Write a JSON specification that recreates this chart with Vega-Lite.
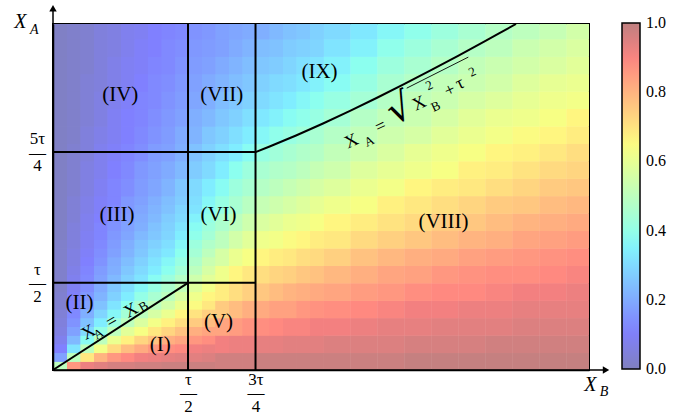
{
"$schema": "https://vega.github.io/schema/vega-lite/v6.json",
"width": 536, "height": 346,
"autosize": {"type": "none"},
"padding": {"left": 53, "top": 24, "right": 84, "bottom": 45},
"background": "white",
"config": {"view": {"stroke": "black", "strokeWidth": 2}, "font": "Liberation Serif"},
"datasets": {
"grid": [
{"b":0,"a":0,"v":0.5},{"b":0,"a":0.1,"v":0.18},{"b":0,"a":0.2,"v":0.11},{"b":0,"a":0.3,"v":0.08},{"b":0,"a":0.4,"v":0.06},{"b":0,"a":0.5,"v":0.05},{"b":0,"a":0.6,"v":0.04},{"b":0,"a":0.7,"v":0.03},{"b":0,"a":0.8,"v":0.03},{"b":0,"a":0.9,"v":0.02},{"b":0,"a":1.0,"v":0.02},{"b":0,"a":1.1,"v":0.02},{"b":0,"a":1.2,"v":0.02},{"b":0,"a":1.3,"v":0.02},{"b":0,"a":1.4,"v":0.02},{"b":0,"a":1.5,"v":0.02},{"b":0,"a":1.6,"v":0.01},{"b":0,"a":1.7,"v":0.01},{"b":0,"a":1.8,"v":0.01},{"b":0,"a":1.9,"v":0.01},
{"b":0.1,"a":0,"v":0.86},{"b":0.1,"a":0.1,"v":0.5},{"b":0.1,"a":0.2,"v":0.32},{"b":0.1,"a":0.3,"v":0.23},{"b":0.1,"a":0.4,"v":0.18},{"b":0.1,"a":0.5,"v":0.15},{"b":0.1,"a":0.6,"v":0.13},{"b":0.1,"a":0.7,"v":0.11},{"b":0.1,"a":0.8,"v":0.1},{"b":0.1,"a":0.9,"v":0.09},{"b":0.1,"a":1.0,"v":0.08},{"b":0.1,"a":1.1,"v":0.07},{"b":0.1,"a":1.2,"v":0.06},{"b":0.1,"a":1.3,"v":0.06},{"b":0.1,"a":1.4,"v":0.05},{"b":0.1,"a":1.5,"v":0.05},{"b":0.1,"a":1.6,"v":0.05},{"b":0.1,"a":1.7,"v":0.04},{"b":0.1,"a":1.8,"v":0.04},{"b":0.1,"a":1.9,"v":0.04},
{"b":0.2,"a":0,"v":0.92},{"b":0.2,"a":0.1,"v":0.69},{"b":0.2,"a":0.2,"v":0.5},{"b":0.2,"a":0.3,"v":0.37},{"b":0.2,"a":0.4,"v":0.3},{"b":0.2,"a":0.5,"v":0.25},{"b":0.2,"a":0.6,"v":0.21},{"b":0.2,"a":0.7,"v":0.18},{"b":0.2,"a":0.8,"v":0.16},{"b":0.2,"a":0.9,"v":0.14},{"b":0.2,"a":1.0,"v":0.13},{"b":0.2,"a":1.1,"v":0.12},{"b":0.2,"a":1.2,"v":0.11},{"b":0.2,"a":1.3,"v":0.1},{"b":0.2,"a":1.4,"v":0.09},{"b":0.2,"a":1.5,"v":0.09},{"b":0.2,"a":1.6,"v":0.08},{"b":0.2,"a":1.7,"v":0.08},{"b":0.2,"a":1.8,"v":0.07},{"b":0.2,"a":1.9,"v":0.07},
{"b":0.3,"a":0,"v":0.94},{"b":0.3,"a":0.1,"v":0.8},{"b":0.3,"a":0.2,"v":0.63},{"b":0.3,"a":0.3,"v":0.5},{"b":0.3,"a":0.4,"v":0.4},{"b":0.3,"a":0.5,"v":0.34},{"b":0.3,"a":0.6,"v":0.29},{"b":0.3,"a":0.7,"v":0.25},{"b":0.3,"a":0.8,"v":0.22},{"b":0.3,"a":0.9,"v":0.2},{"b":0.3,"a":1.0,"v":0.18},{"b":0.3,"a":1.1,"v":0.17},{"b":0.3,"a":1.2,"v":0.15},{"b":0.3,"a":1.3,"v":0.14},{"b":0.3,"a":1.4,"v":0.13},{"b":0.3,"a":1.5,"v":0.12},{"b":0.3,"a":1.6,"v":0.12},{"b":0.3,"a":1.7,"v":0.11},{"b":0.3,"a":1.8,"v":0.1},{"b":0.3,"a":1.9,"v":0.1},
{"b":0.4,"a":0,"v":0.96},{"b":0.4,"a":0.1,"v":0.86},{"b":0.4,"a":0.2,"v":0.72},{"b":0.4,"a":0.3,"v":0.61},{"b":0.4,"a":0.4,"v":0.5},{"b":0.4,"a":0.5,"v":0.42},{"b":0.4,"a":0.6,"v":0.36},{"b":0.4,"a":0.7,"v":0.32},{"b":0.4,"a":0.8,"v":0.28},{"b":0.4,"a":0.9,"v":0.26},{"b":0.4,"a":1.0,"v":0.23},{"b":0.4,"a":1.1,"v":0.21},{"b":0.4,"a":1.2,"v":0.2},{"b":0.4,"a":1.3,"v":0.18},{"b":0.4,"a":1.4,"v":0.17},{"b":0.4,"a":1.5,"v":0.16},{"b":0.4,"a":1.6,"v":0.15},{"b":0.4,"a":1.7,"v":0.14},{"b":0.4,"a":1.8,"v":0.13},{"b":0.4,"a":1.9,"v":0.12},
{"b":0.5,"a":0,"v":0.96},{"b":0.5,"a":0.1,"v":0.89},{"b":0.5,"a":0.2,"v":0.8},{"b":0.5,"a":0.3,"v":0.7},{"b":0.5,"a":0.4,"v":0.62},{"b":0.5,"a":0.5,"v":0.55},{"b":0.5,"a":0.6,"v":0.49},{"b":0.5,"a":0.7,"v":0.43},{"b":0.5,"a":0.8,"v":0.38},{"b":0.5,"a":0.9,"v":0.35},{"b":0.5,"a":1.0,"v":0.31},{"b":0.5,"a":1.1,"v":0.29},{"b":0.5,"a":1.2,"v":0.26},{"b":0.5,"a":1.3,"v":0.24},{"b":0.5,"a":1.4,"v":0.22},{"b":0.5,"a":1.5,"v":0.2},{"b":0.5,"a":1.6,"v":0.19},{"b":0.5,"a":1.7,"v":0.17},{"b":0.5,"a":1.8,"v":0.16},{"b":0.5,"a":1.9,"v":0.16},
{"b":0.6,"a":0,"v":0.97},{"b":0.6,"a":0.1,"v":0.91},{"b":0.6,"a":0.2,"v":0.84},{"b":0.6,"a":0.3,"v":0.77},{"b":0.6,"a":0.4,"v":0.7},{"b":0.6,"a":0.5,"v":0.64},{"b":0.6,"a":0.6,"v":0.59},{"b":0.6,"a":0.7,"v":0.53},{"b":0.6,"a":0.8,"v":0.48},{"b":0.6,"a":0.9,"v":0.43},{"b":0.6,"a":1.0,"v":0.39},{"b":0.6,"a":1.1,"v":0.36},{"b":0.6,"a":1.2,"v":0.32},{"b":0.6,"a":1.3,"v":0.3},{"b":0.6,"a":1.4,"v":0.27},{"b":0.6,"a":1.5,"v":0.25},{"b":0.6,"a":1.6,"v":0.23},{"b":0.6,"a":1.7,"v":0.21},{"b":0.6,"a":1.8,"v":0.19},{"b":0.6,"a":1.9,"v":0.18},
{"b":0.7,"a":0,"v":0.97},{"b":0.7,"a":0.1,"v":0.93},{"b":0.7,"a":0.2,"v":0.88},{"b":0.7,"a":0.3,"v":0.82},{"b":0.7,"a":0.4,"v":0.76},{"b":0.7,"a":0.5,"v":0.7},{"b":0.7,"a":0.6,"v":0.66},{"b":0.7,"a":0.7,"v":0.61},{"b":0.7,"a":0.8,"v":0.56},{"b":0.7,"a":0.9,"v":0.51},{"b":0.7,"a":1.0,"v":0.47},{"b":0.7,"a":1.1,"v":0.43},{"b":0.7,"a":1.2,"v":0.39},{"b":0.7,"a":1.3,"v":0.35},{"b":0.7,"a":1.4,"v":0.32},{"b":0.7,"a":1.5,"v":0.29},{"b":0.7,"a":1.6,"v":0.27},{"b":0.7,"a":1.7,"v":0.25},{"b":0.7,"a":1.8,"v":0.23},{"b":0.7,"a":1.9,"v":0.21},
{"b":0.8,"a":0,"v":0.98},{"b":0.8,"a":0.1,"v":0.93},{"b":0.8,"a":0.2,"v":0.89},{"b":0.8,"a":0.3,"v":0.84},{"b":0.8,"a":0.4,"v":0.79},{"b":0.8,"a":0.5,"v":0.74},{"b":0.8,"a":0.6,"v":0.69},{"b":0.8,"a":0.7,"v":0.64},{"b":0.8,"a":0.8,"v":0.6},{"b":0.8,"a":0.9,"v":0.55},{"b":0.8,"a":1.0,"v":0.51},{"b":0.8,"a":1.1,"v":0.47},{"b":0.8,"a":1.2,"v":0.44},{"b":0.8,"a":1.3,"v":0.4},{"b":0.8,"a":1.4,"v":0.36},{"b":0.8,"a":1.5,"v":0.33},{"b":0.8,"a":1.6,"v":0.3},{"b":0.8,"a":1.7,"v":0.28},{"b":0.8,"a":1.8,"v":0.26},{"b":0.8,"a":1.9,"v":0.24},
{"b":0.9,"a":0,"v":0.98},{"b":0.9,"a":0.1,"v":0.94},{"b":0.9,"a":0.2,"v":0.9},{"b":0.9,"a":0.3,"v":0.86},{"b":0.9,"a":0.4,"v":0.81},{"b":0.9,"a":0.5,"v":0.77},{"b":0.9,"a":0.6,"v":0.72},{"b":0.9,"a":0.7,"v":0.67},{"b":0.9,"a":0.8,"v":0.63},{"b":0.9,"a":0.9,"v":0.59},{"b":0.9,"a":1.0,"v":0.55},{"b":0.9,"a":1.1,"v":0.51},{"b":0.9,"a":1.2,"v":0.48},{"b":0.9,"a":1.3,"v":0.44},{"b":0.9,"a":1.4,"v":0.4},{"b":0.9,"a":1.5,"v":0.37},{"b":0.9,"a":1.6,"v":0.34},{"b":0.9,"a":1.7,"v":0.31},{"b":0.9,"a":1.8,"v":0.29},{"b":0.9,"a":1.9,"v":0.27},
{"b":1.0,"a":0,"v":0.98},{"b":1.0,"a":0.1,"v":0.95},{"b":1.0,"a":0.2,"v":0.91},{"b":1.0,"a":0.3,"v":0.88},{"b":1.0,"a":0.4,"v":0.83},{"b":1.0,"a":0.5,"v":0.79},{"b":1.0,"a":0.6,"v":0.74},{"b":1.0,"a":0.7,"v":0.69},{"b":1.0,"a":0.8,"v":0.66},{"b":1.0,"a":0.9,"v":0.62},{"b":1.0,"a":1.0,"v":0.58},{"b":1.0,"a":1.1,"v":0.54},{"b":1.0,"a":1.2,"v":0.51},{"b":1.0,"a":1.3,"v":0.48},{"b":1.0,"a":1.4,"v":0.44},{"b":1.0,"a":1.5,"v":0.41},{"b":1.0,"a":1.6,"v":0.37},{"b":1.0,"a":1.7,"v":0.35},{"b":1.0,"a":1.8,"v":0.32},{"b":1.0,"a":1.9,"v":0.3},
{"b":1.1,"a":0,"v":0.98},{"b":1.1,"a":0.1,"v":0.95},{"b":1.1,"a":0.2,"v":0.92},{"b":1.1,"a":0.3,"v":0.89},{"b":1.1,"a":0.4,"v":0.85},{"b":1.1,"a":0.5,"v":0.81},{"b":1.1,"a":0.6,"v":0.77},{"b":1.1,"a":0.7,"v":0.72},{"b":1.1,"a":0.8,"v":0.68},{"b":1.1,"a":0.9,"v":0.64},{"b":1.1,"a":1.0,"v":0.61},{"b":1.1,"a":1.1,"v":0.58},{"b":1.1,"a":1.2,"v":0.54},{"b":1.1,"a":1.3,"v":0.51},{"b":1.1,"a":1.4,"v":0.48},{"b":1.1,"a":1.5,"v":0.44},{"b":1.1,"a":1.6,"v":0.41},{"b":1.1,"a":1.7,"v":0.38},{"b":1.1,"a":1.8,"v":0.35},{"b":1.1,"a":1.9,"v":0.33},
{"b":1.2,"a":0,"v":0.98},{"b":1.2,"a":0.1,"v":0.95},{"b":1.2,"a":0.2,"v":0.93},{"b":1.2,"a":0.3,"v":0.9},{"b":1.2,"a":0.4,"v":0.86},{"b":1.2,"a":0.5,"v":0.83},{"b":1.2,"a":0.6,"v":0.79},{"b":1.2,"a":0.7,"v":0.74},{"b":1.2,"a":0.8,"v":0.7},{"b":1.2,"a":0.9,"v":0.67},{"b":1.2,"a":1.0,"v":0.63},{"b":1.2,"a":1.1,"v":0.6},{"b":1.2,"a":1.2,"v":0.57},{"b":1.2,"a":1.3,"v":0.54},{"b":1.2,"a":1.4,"v":0.51},{"b":1.2,"a":1.5,"v":0.48},{"b":1.2,"a":1.6,"v":0.45},{"b":1.2,"a":1.7,"v":0.42},{"b":1.2,"a":1.8,"v":0.39},{"b":1.2,"a":1.9,"v":0.36},
{"b":1.3,"a":0,"v":0.99},{"b":1.3,"a":0.1,"v":0.96},{"b":1.3,"a":0.2,"v":0.93},{"b":1.3,"a":0.3,"v":0.91},{"b":1.3,"a":0.4,"v":0.88},{"b":1.3,"a":0.5,"v":0.84},{"b":1.3,"a":0.6,"v":0.81},{"b":1.3,"a":0.7,"v":0.76},{"b":1.3,"a":0.8,"v":0.72},{"b":1.3,"a":0.9,"v":0.69},{"b":1.3,"a":1.0,"v":0.66},{"b":1.3,"a":1.1,"v":0.62},{"b":1.3,"a":1.2,"v":0.6},{"b":1.3,"a":1.3,"v":0.56},{"b":1.3,"a":1.4,"v":0.53},{"b":1.3,"a":1.5,"v":0.51},{"b":1.3,"a":1.6,"v":0.48},{"b":1.3,"a":1.7,"v":0.45},{"b":1.3,"a":1.8,"v":0.42},{"b":1.3,"a":1.9,"v":0.39},
{"b":1.4,"a":0,"v":0.99},{"b":1.4,"a":0.1,"v":0.96},{"b":1.4,"a":0.2,"v":0.94},{"b":1.4,"a":0.3,"v":0.91},{"b":1.4,"a":0.4,"v":0.89},{"b":1.4,"a":0.5,"v":0.86},{"b":1.4,"a":0.6,"v":0.82},{"b":1.4,"a":0.7,"v":0.78},{"b":1.4,"a":0.8,"v":0.75},{"b":1.4,"a":0.9,"v":0.71},{"b":1.4,"a":1.0,"v":0.68},{"b":1.4,"a":1.1,"v":0.64},{"b":1.4,"a":1.2,"v":0.62},{"b":1.4,"a":1.3,"v":0.59},{"b":1.4,"a":1.4,"v":0.56},{"b":1.4,"a":1.5,"v":0.53},{"b":1.4,"a":1.6,"v":0.51},{"b":1.4,"a":1.7,"v":0.48},{"b":1.4,"a":1.8,"v":0.45},{"b":1.4,"a":1.9,"v":0.42},
{"b":1.5,"a":0,"v":0.99},{"b":1.5,"a":0.1,"v":0.96},{"b":1.5,"a":0.2,"v":0.94},{"b":1.5,"a":0.3,"v":0.92},{"b":1.5,"a":0.4,"v":0.89},{"b":1.5,"a":0.5,"v":0.87},{"b":1.5,"a":0.6,"v":0.84},{"b":1.5,"a":0.7,"v":0.8},{"b":1.5,"a":0.8,"v":0.76},{"b":1.5,"a":0.9,"v":0.73},{"b":1.5,"a":1.0,"v":0.69},{"b":1.5,"a":1.1,"v":0.67},{"b":1.5,"a":1.2,"v":0.64},{"b":1.5,"a":1.3,"v":0.61},{"b":1.5,"a":1.4,"v":0.59},{"b":1.5,"a":1.5,"v":0.56},{"b":1.5,"a":1.6,"v":0.53},{"b":1.5,"a":1.7,"v":0.51},{"b":1.5,"a":1.8,"v":0.48},{"b":1.5,"a":1.9,"v":0.45},
{"b":1.6,"a":0,"v":0.99},{"b":1.6,"a":0.1,"v":0.97},{"b":1.6,"a":0.2,"v":0.94},{"b":1.6,"a":0.3,"v":0.92},{"b":1.6,"a":0.4,"v":0.9},{"b":1.6,"a":0.5,"v":0.88},{"b":1.6,"a":0.6,"v":0.85},{"b":1.6,"a":0.7,"v":0.81},{"b":1.6,"a":0.8,"v":0.78},{"b":1.6,"a":0.9,"v":0.75},{"b":1.6,"a":1.0,"v":0.71},{"b":1.6,"a":1.1,"v":0.68},{"b":1.6,"a":1.2,"v":0.66},{"b":1.6,"a":1.3,"v":0.63},{"b":1.6,"a":1.4,"v":0.61},{"b":1.6,"a":1.5,"v":0.58},{"b":1.6,"a":1.6,"v":0.55},{"b":1.6,"a":1.7,"v":0.53},{"b":1.6,"a":1.8,"v":0.5},{"b":1.6,"a":1.9,"v":0.48},
{"b":1.7,"a":0,"v":0.99},{"b":1.7,"a":0.1,"v":0.97},{"b":1.7,"a":0.2,"v":0.95},{"b":1.7,"a":0.3,"v":0.93},{"b":1.7,"a":0.4,"v":0.91},{"b":1.7,"a":0.5,"v":0.88},{"b":1.7,"a":0.6,"v":0.86},{"b":1.7,"a":0.7,"v":0.83},{"b":1.7,"a":0.8,"v":0.8},{"b":1.7,"a":0.9,"v":0.76},{"b":1.7,"a":1.0,"v":0.73},{"b":1.7,"a":1.1,"v":0.7},{"b":1.7,"a":1.2,"v":0.67},{"b":1.7,"a":1.3,"v":0.65},{"b":1.7,"a":1.4,"v":0.62},{"b":1.7,"a":1.5,"v":0.6},{"b":1.7,"a":1.6,"v":0.58},{"b":1.7,"a":1.7,"v":0.55},{"b":1.7,"a":1.8,"v":0.53},{"b":1.7,"a":1.9,"v":0.5},
{"b":1.8,"a":0,"v":0.99},{"b":1.8,"a":0.1,"v":0.97},{"b":1.8,"a":0.2,"v":0.95},{"b":1.8,"a":0.3,"v":0.93},{"b":1.8,"a":0.4,"v":0.91},{"b":1.8,"a":0.5,"v":0.89},{"b":1.8,"a":0.6,"v":0.87},{"b":1.8,"a":0.7,"v":0.84},{"b":1.8,"a":0.8,"v":0.81},{"b":1.8,"a":0.9,"v":0.78},{"b":1.8,"a":1.0,"v":0.75},{"b":1.8,"a":1.1,"v":0.72},{"b":1.8,"a":1.2,"v":0.69},{"b":1.8,"a":1.3,"v":0.66},{"b":1.8,"a":1.4,"v":0.64},{"b":1.8,"a":1.5,"v":0.62},{"b":1.8,"a":1.6,"v":0.6},{"b":1.8,"a":1.7,"v":0.57},{"b":1.8,"a":1.8,"v":0.55},{"b":1.8,"a":1.9,"v":0.52},
{"b":1.9,"a":0,"v":0.99},{"b":1.9,"a":0.1,"v":0.97},{"b":1.9,"a":0.2,"v":0.95},{"b":1.9,"a":0.3,"v":0.93},{"b":1.9,"a":0.4,"v":0.92},{"b":1.9,"a":0.5,"v":0.9},{"b":1.9,"a":0.6,"v":0.88},{"b":1.9,"a":0.7,"v":0.85},{"b":1.9,"a":0.8,"v":0.82},{"b":1.9,"a":0.9,"v":0.79},{"b":1.9,"a":1.0,"v":0.76},{"b":1.9,"a":1.1,"v":0.73},{"b":1.9,"a":1.2,"v":0.71},{"b":1.9,"a":1.3,"v":0.68},{"b":1.9,"a":1.4,"v":0.66},{"b":1.9,"a":1.5,"v":0.63},{"b":1.9,"a":1.6,"v":0.61},{"b":1.9,"a":1.7,"v":0.59},{"b":1.9,"a":1.8,"v":0.57},{"b":1.9,"a":1.9,"v":0.55}
],
"fine": [
{"b":0,"a":0,"v":0.5},{"b":0,"a":0.05,"v":0.18},{"b":0,"a":0.1,"v":0.11},{"b":0,"a":0.15,"v":0.08},{"b":0,"a":0.2,"v":0.06},{"b":0,"a":0.25,"v":0.05},{"b":0,"a":0.3,"v":0.04},{"b":0,"a":0.35,"v":0.03},{"b":0,"a":0.4,"v":0.03},{"b":0,"a":0.45,"v":0.02},{"b":0,"a":0.5,"v":0.02},{"b":0,"a":0.55,"v":0.02},{"b":0,"a":0.6,"v":0.02},{"b":0,"a":0.65,"v":0.02},{"b":0,"a":0.7,"v":0.02},{"b":0,"a":0.75,"v":0.01},{"b":0,"a":0.8,"v":0.01},{"b":0,"a":0.85,"v":0.01},{"b":0,"a":0.9,"v":0.01},{"b":0,"a":0.95,"v":0.01},
{"b":0.05,"a":0,"v":0.86},{"b":0.05,"a":0.05,"v":0.5},{"b":0.05,"a":0.1,"v":0.32},{"b":0.05,"a":0.15,"v":0.23},{"b":0.05,"a":0.2,"v":0.18},{"b":0.05,"a":0.25,"v":0.15},{"b":0.05,"a":0.3,"v":0.13},{"b":0.05,"a":0.35,"v":0.11},{"b":0.05,"a":0.4,"v":0.1},{"b":0.05,"a":0.45,"v":0.09},{"b":0.05,"a":0.5,"v":0.08},{"b":0.05,"a":0.55,"v":0.07},{"b":0.05,"a":0.6,"v":0.06},{"b":0.05,"a":0.65,"v":0.06},{"b":0.05,"a":0.7,"v":0.05},{"b":0.05,"a":0.75,"v":0.05},{"b":0.05,"a":0.8,"v":0.05},{"b":0.05,"a":0.85,"v":0.04},{"b":0.05,"a":0.9,"v":0.04},{"b":0.05,"a":0.95,"v":0.04},
{"b":0.1,"a":0,"v":0.92},{"b":0.1,"a":0.05,"v":0.69},{"b":0.1,"a":0.1,"v":0.5},{"b":0.1,"a":0.15,"v":0.37},{"b":0.1,"a":0.2,"v":0.3},{"b":0.1,"a":0.25,"v":0.25},{"b":0.1,"a":0.3,"v":0.21},{"b":0.1,"a":0.35,"v":0.18},{"b":0.1,"a":0.4,"v":0.16},{"b":0.1,"a":0.45,"v":0.14},{"b":0.1,"a":0.5,"v":0.13},{"b":0.1,"a":0.55,"v":0.12},{"b":0.1,"a":0.6,"v":0.11},{"b":0.1,"a":0.65,"v":0.1},{"b":0.1,"a":0.7,"v":0.09},{"b":0.1,"a":0.75,"v":0.09},{"b":0.1,"a":0.8,"v":0.08},{"b":0.1,"a":0.85,"v":0.08},{"b":0.1,"a":0.9,"v":0.07},{"b":0.1,"a":0.95,"v":0.07},
{"b":0.15,"a":0,"v":0.94},{"b":0.15,"a":0.05,"v":0.8},{"b":0.15,"a":0.1,"v":0.63},{"b":0.15,"a":0.15,"v":0.5},{"b":0.15,"a":0.2,"v":0.4},{"b":0.15,"a":0.25,"v":0.34},{"b":0.15,"a":0.3,"v":0.29},{"b":0.15,"a":0.35,"v":0.25},{"b":0.15,"a":0.4,"v":0.22},{"b":0.15,"a":0.45,"v":0.2},{"b":0.15,"a":0.5,"v":0.18},{"b":0.15,"a":0.55,"v":0.17},{"b":0.15,"a":0.6,"v":0.15},{"b":0.15,"a":0.65,"v":0.14},{"b":0.15,"a":0.7,"v":0.13},{"b":0.15,"a":0.75,"v":0.12},{"b":0.15,"a":0.8,"v":0.12},{"b":0.15,"a":0.85,"v":0.11},{"b":0.15,"a":0.9,"v":0.1},{"b":0.15,"a":0.95,"v":0.1},
{"b":0.2,"a":0,"v":0.96},{"b":0.2,"a":0.05,"v":0.86},{"b":0.2,"a":0.1,"v":0.72},{"b":0.2,"a":0.15,"v":0.61},{"b":0.2,"a":0.2,"v":0.5},{"b":0.2,"a":0.25,"v":0.42},{"b":0.2,"a":0.3,"v":0.36},{"b":0.2,"a":0.35,"v":0.32},{"b":0.2,"a":0.4,"v":0.28},{"b":0.2,"a":0.45,"v":0.26},{"b":0.2,"a":0.5,"v":0.23},{"b":0.2,"a":0.55,"v":0.21},{"b":0.2,"a":0.6,"v":0.2},{"b":0.2,"a":0.65,"v":0.18},{"b":0.2,"a":0.7,"v":0.17},{"b":0.2,"a":0.75,"v":0.16},{"b":0.2,"a":0.8,"v":0.15},{"b":0.2,"a":0.85,"v":0.14},{"b":0.2,"a":0.9,"v":0.13},{"b":0.2,"a":0.95,"v":0.12},
{"b":0.25,"a":0,"v":0.96},{"b":0.25,"a":0.05,"v":0.89},{"b":0.25,"a":0.1,"v":0.78},{"b":0.25,"a":0.15,"v":0.67},{"b":0.25,"a":0.2,"v":0.59},{"b":0.25,"a":0.25,"v":0.5},{"b":0.25,"a":0.3,"v":0.44},{"b":0.25,"a":0.35,"v":0.38},{"b":0.25,"a":0.4,"v":0.34},{"b":0.25,"a":0.45,"v":0.31},{"b":0.25,"a":0.5,"v":0.28},{"b":0.25,"a":0.55,"v":0.26},{"b":0.25,"a":0.6,"v":0.24},{"b":0.25,"a":0.65,"v":0.22},{"b":0.25,"a":0.7,"v":0.21},{"b":0.25,"a":0.75,"v":0.19},{"b":0.25,"a":0.8,"v":0.18},{"b":0.25,"a":0.85,"v":0.17},{"b":0.25,"a":0.9,"v":0.16},{"b":0.25,"a":0.95,"v":0.16},
{"b":0.3,"a":0,"v":0.97},{"b":0.3,"a":0.05,"v":0.91},{"b":0.3,"a":0.1,"v":0.82},{"b":0.3,"a":0.15,"v":0.73},{"b":0.3,"a":0.2,"v":0.64},{"b":0.3,"a":0.25,"v":0.57},{"b":0.3,"a":0.3,"v":0.5},{"b":0.3,"a":0.35,"v":0.45},{"b":0.3,"a":0.4,"v":0.4},{"b":0.3,"a":0.45,"v":0.36},{"b":0.3,"a":0.5,"v":0.32},{"b":0.3,"a":0.55,"v":0.3},{"b":0.3,"a":0.6,"v":0.28},{"b":0.3,"a":0.65,"v":0.26},{"b":0.3,"a":0.7,"v":0.25},{"b":0.3,"a":0.75,"v":0.23},{"b":0.3,"a":0.8,"v":0.21},{"b":0.3,"a":0.85,"v":0.2},{"b":0.3,"a":0.9,"v":0.19},{"b":0.3,"a":0.95,"v":0.18},
{"b":0.35,"a":0,"v":0.97},{"b":0.35,"a":0.05,"v":0.92},{"b":0.35,"a":0.1,"v":0.86},{"b":0.35,"a":0.15,"v":0.77},{"b":0.35,"a":0.2,"v":0.69},{"b":0.35,"a":0.25,"v":0.63},{"b":0.35,"a":0.3,"v":0.56},{"b":0.35,"a":0.35,"v":0.5},{"b":0.35,"a":0.4,"v":0.45},{"b":0.35,"a":0.45,"v":0.41},{"b":0.35,"a":0.5,"v":0.37},{"b":0.35,"a":0.55,"v":0.34},{"b":0.35,"a":0.6,"v":0.32},{"b":0.35,"a":0.65,"v":0.3},{"b":0.35,"a":0.7,"v":0.28},{"b":0.35,"a":0.75,"v":0.26},{"b":0.35,"a":0.8,"v":0.25},{"b":0.35,"a":0.85,"v":0.23},{"b":0.35,"a":0.9,"v":0.22},{"b":0.35,"a":0.95,"v":0.21},
{"b":0.4,"a":0,"v":0.98},{"b":0.4,"a":0.05,"v":0.93},{"b":0.4,"a":0.1,"v":0.88},{"b":0.4,"a":0.15,"v":0.81},{"b":0.4,"a":0.2,"v":0.73},{"b":0.4,"a":0.25,"v":0.67},{"b":0.4,"a":0.3,"v":0.61},{"b":0.4,"a":0.35,"v":0.55},{"b":0.4,"a":0.4,"v":0.5},{"b":0.4,"a":0.45,"v":0.46},{"b":0.4,"a":0.5,"v":0.42},{"b":0.4,"a":0.55,"v":0.38},{"b":0.4,"a":0.6,"v":0.36},{"b":0.4,"a":0.65,"v":0.33},{"b":0.4,"a":0.7,"v":0.31},{"b":0.4,"a":0.75,"v":0.29},{"b":0.4,"a":0.8,"v":0.28},{"b":0.4,"a":0.85,"v":0.27},{"b":0.4,"a":0.9,"v":0.25},{"b":0.4,"a":0.95,"v":0.24},
{"b":0.45,"a":0,"v":0.98},{"b":0.45,"a":0.05,"v":0.94},{"b":0.45,"a":0.1,"v":0.89},{"b":0.45,"a":0.15,"v":0.83},{"b":0.45,"a":0.2,"v":0.77},{"b":0.45,"a":0.25,"v":0.71},{"b":0.45,"a":0.3,"v":0.66},{"b":0.45,"a":0.35,"v":0.61},{"b":0.45,"a":0.4,"v":0.56},{"b":0.45,"a":0.45,"v":0.51},{"b":0.45,"a":0.5,"v":0.48},{"b":0.45,"a":0.55,"v":0.44},{"b":0.45,"a":0.6,"v":0.41},{"b":0.45,"a":0.65,"v":0.38},{"b":0.45,"a":0.7,"v":0.36},{"b":0.45,"a":0.75,"v":0.34},{"b":0.45,"a":0.8,"v":0.32},{"b":0.45,"a":0.85,"v":0.3},{"b":0.45,"a":0.9,"v":0.29},{"b":0.45,"a":0.95,"v":0.27},
{"b":0.5,"a":0,"v":0.98},{"b":0.5,"a":0.05,"v":0.94},{"b":0.5,"a":0.1,"v":0.91},{"b":0.5,"a":0.15,"v":0.86},{"b":0.5,"a":0.2,"v":0.81},{"b":0.5,"a":0.25,"v":0.75},{"b":0.5,"a":0.3,"v":0.7},{"b":0.5,"a":0.35,"v":0.65},{"b":0.5,"a":0.4,"v":0.62},{"b":0.5,"a":0.45,"v":0.58},{"b":0.5,"a":0.5,"v":0.54},{"b":0.5,"a":0.55,"v":0.5},{"b":0.5,"a":0.6,"v":0.47},{"b":0.5,"a":0.65,"v":0.44},{"b":0.5,"a":0.7,"v":0.42},{"b":0.5,"a":0.75,"v":0.39},{"b":0.5,"a":0.8,"v":0.37},{"b":0.5,"a":0.85,"v":0.35},{"b":0.5,"a":0.9,"v":0.32},{"b":0.5,"a":0.95,"v":0.31},
{"b":0.55,"a":0,"v":0.98},{"b":0.55,"a":0.05,"v":0.95},{"b":0.55,"a":0.1,"v":0.92},{"b":0.55,"a":0.15,"v":0.88},{"b":0.55,"a":0.2,"v":0.83},{"b":0.55,"a":0.25,"v":0.78},{"b":0.55,"a":0.3,"v":0.74},{"b":0.55,"a":0.35,"v":0.69},{"b":0.55,"a":0.4,"v":0.66},{"b":0.55,"a":0.45,"v":0.63},{"b":0.55,"a":0.5,"v":0.59},{"b":0.55,"a":0.55,"v":0.56},{"b":0.55,"a":0.6,"v":0.53},{"b":0.55,"a":0.65,"v":0.5},{"b":0.55,"a":0.7,"v":0.47},{"b":0.55,"a":0.75,"v":0.44},{"b":0.55,"a":0.8,"v":0.42},{"b":0.55,"a":0.85,"v":0.4},{"b":0.55,"a":0.9,"v":0.37},{"b":0.55,"a":0.95,"v":0.36}
],
"fine2": [
{"b":0,"a":1.0,"v":0.01},{"b":0,"a":1.1,"v":0.01},{"b":0,"a":1.2,"v":0.01},{"b":0,"a":1.3,"v":0.01},{"b":0,"a":1.4,"v":0.01},{"b":0,"a":1.5,"v":0.01},{"b":0,"a":1.6,"v":0.01},{"b":0,"a":1.7,"v":0.01},{"b":0,"a":1.8,"v":0.01},{"b":0,"a":1.9,"v":0.01},
{"b":0.05,"a":1.0,"v":0.03},{"b":0.05,"a":1.1,"v":0.03},{"b":0.05,"a":1.2,"v":0.03},{"b":0.05,"a":1.3,"v":0.02},{"b":0.05,"a":1.4,"v":0.02},{"b":0.05,"a":1.5,"v":0.02},{"b":0.05,"a":1.6,"v":0.02},{"b":0.05,"a":1.7,"v":0.02},{"b":0.05,"a":1.8,"v":0.02},{"b":0.05,"a":1.9,"v":0.02},
{"b":0.1,"a":1.0,"v":0.06},{"b":0.1,"a":1.1,"v":0.06},{"b":0.1,"a":1.2,"v":0.05},{"b":0.1,"a":1.3,"v":0.05},{"b":0.1,"a":1.4,"v":0.04},{"b":0.1,"a":1.5,"v":0.04},{"b":0.1,"a":1.6,"v":0.04},{"b":0.1,"a":1.7,"v":0.03},{"b":0.1,"a":1.8,"v":0.03},{"b":0.1,"a":1.9,"v":0.03},
{"b":0.15,"a":1.0,"v":0.09},{"b":0.15,"a":1.1,"v":0.08},{"b":0.15,"a":1.2,"v":0.08},{"b":0.15,"a":1.3,"v":0.07},{"b":0.15,"a":1.4,"v":0.06},{"b":0.15,"a":1.5,"v":0.06},{"b":0.15,"a":1.6,"v":0.05},{"b":0.15,"a":1.7,"v":0.05},{"b":0.15,"a":1.8,"v":0.05},{"b":0.15,"a":1.9,"v":0.05},
{"b":0.2,"a":1.0,"v":0.12},{"b":0.2,"a":1.1,"v":0.11},{"b":0.2,"a":1.2,"v":0.1},{"b":0.2,"a":1.3,"v":0.09},{"b":0.2,"a":1.4,"v":0.09},{"b":0.2,"a":1.5,"v":0.08},{"b":0.2,"a":1.6,"v":0.07},{"b":0.2,"a":1.7,"v":0.07},{"b":0.2,"a":1.8,"v":0.06},{"b":0.2,"a":1.9,"v":0.06},
{"b":0.25,"a":1.0,"v":0.14},{"b":0.25,"a":1.1,"v":0.13},{"b":0.25,"a":1.2,"v":0.12},{"b":0.25,"a":1.3,"v":0.11},{"b":0.25,"a":1.4,"v":0.11},{"b":0.25,"a":1.5,"v":0.1},{"b":0.25,"a":1.6,"v":0.09},{"b":0.25,"a":1.7,"v":0.09},{"b":0.25,"a":1.8,"v":0.08},{"b":0.25,"a":1.9,"v":0.08},
{"b":0.3,"a":1.0,"v":0.17},{"b":0.3,"a":1.1,"v":0.16},{"b":0.3,"a":1.2,"v":0.14},{"b":0.3,"a":1.3,"v":0.13},{"b":0.3,"a":1.4,"v":0.12},{"b":0.3,"a":1.5,"v":0.12},{"b":0.3,"a":1.6,"v":0.11},{"b":0.3,"a":1.7,"v":0.1},{"b":0.3,"a":1.8,"v":0.1},{"b":0.3,"a":1.9,"v":0.09},
{"b":0.35,"a":1.0,"v":0.19},{"b":0.35,"a":1.1,"v":0.18},{"b":0.35,"a":1.2,"v":0.17},{"b":0.35,"a":1.3,"v":0.15},{"b":0.35,"a":1.4,"v":0.14},{"b":0.35,"a":1.5,"v":0.13},{"b":0.35,"a":1.6,"v":0.13},{"b":0.35,"a":1.7,"v":0.12},{"b":0.35,"a":1.8,"v":0.11},{"b":0.35,"a":1.9,"v":0.11},
{"b":0.4,"a":1.0,"v":0.22},{"b":0.4,"a":1.1,"v":0.2},{"b":0.4,"a":1.2,"v":0.18},{"b":0.4,"a":1.3,"v":0.17},{"b":0.4,"a":1.4,"v":0.16},{"b":0.4,"a":1.5,"v":0.15},{"b":0.4,"a":1.6,"v":0.14},{"b":0.4,"a":1.7,"v":0.13},{"b":0.4,"a":1.8,"v":0.13},{"b":0.4,"a":1.9,"v":0.12},
{"b":0.45,"a":1.0,"v":0.26},{"b":0.45,"a":1.1,"v":0.23},{"b":0.45,"a":1.2,"v":0.21},{"b":0.45,"a":1.3,"v":0.2},{"b":0.45,"a":1.4,"v":0.18},{"b":0.45,"a":1.5,"v":0.17},{"b":0.45,"a":1.6,"v":0.16},{"b":0.45,"a":1.7,"v":0.15},{"b":0.45,"a":1.8,"v":0.14},{"b":0.45,"a":1.9,"v":0.13},
{"b":0.5,"a":1.0,"v":0.3},{"b":0.5,"a":1.1,"v":0.27},{"b":0.5,"a":1.2,"v":0.25},{"b":0.5,"a":1.3,"v":0.22},{"b":0.5,"a":1.4,"v":0.21},{"b":0.5,"a":1.5,"v":0.19},{"b":0.5,"a":1.6,"v":0.18},{"b":0.5,"a":1.7,"v":0.17},{"b":0.5,"a":1.8,"v":0.16},{"b":0.5,"a":1.9,"v":0.15},
{"b":0.55,"a":1.0,"v":0.34},{"b":0.55,"a":1.1,"v":0.3},{"b":0.55,"a":1.2,"v":0.28},{"b":0.55,"a":1.3,"v":0.26},{"b":0.55,"a":1.4,"v":0.23},{"b":0.55,"a":1.5,"v":0.21},{"b":0.55,"a":1.6,"v":0.2},{"b":0.55,"a":1.7,"v":0.18},{"b":0.55,"a":1.8,"v":0.17},{"b":0.55,"a":1.9,"v":0.16},
{"b":0.6,"a":0,"v":0.97},{"b":0.6,"a":0.1,"v":0.91},{"b":0.6,"a":0.2,"v":0.83},{"b":0.6,"a":0.3,"v":0.75},{"b":0.6,"a":0.4,"v":0.68},{"b":0.6,"a":0.5,"v":0.62},{"b":0.6,"a":0.6,"v":0.56},{"b":0.6,"a":0.7,"v":0.5},{"b":0.6,"a":0.8,"v":0.46},{"b":0.6,"a":0.9,"v":0.41},{"b":0.6,"a":1.0,"v":0.37},{"b":0.6,"a":1.1,"v":0.34},{"b":0.6,"a":1.2,"v":0.31},{"b":0.6,"a":1.3,"v":0.28},{"b":0.6,"a":1.4,"v":0.26},{"b":0.6,"a":1.5,"v":0.24},{"b":0.6,"a":1.6,"v":0.22},{"b":0.6,"a":1.7,"v":0.2},{"b":0.6,"a":1.8,"v":0.18},{"b":0.6,"a":1.9,"v":0.18},
{"b":0.65,"a":0,"v":0.97},{"b":0.65,"a":0.1,"v":0.92},{"b":0.65,"a":0.2,"v":0.85},{"b":0.65,"a":0.3,"v":0.78},{"b":0.65,"a":0.4,"v":0.71},{"b":0.65,"a":0.5,"v":0.66},{"b":0.65,"a":0.6,"v":0.61},{"b":0.65,"a":0.7,"v":0.55},{"b":0.65,"a":0.8,"v":0.5},{"b":0.65,"a":0.9,"v":0.45},{"b":0.65,"a":1.0,"v":0.42},{"b":0.65,"a":1.1,"v":0.38},{"b":0.65,"a":1.2,"v":0.34},{"b":0.65,"a":1.3,"v":0.31},{"b":0.65,"a":1.4,"v":0.28},{"b":0.65,"a":1.5,"v":0.26},{"b":0.65,"a":1.6,"v":0.24},{"b":0.65,"a":1.7,"v":0.22},{"b":0.65,"a":1.8,"v":0.2},{"b":0.65,"a":1.9,"v":0.19},
{"b":0.7,"a":0,"v":0.97},{"b":0.7,"a":0.1,"v":0.92},{"b":0.7,"a":0.2,"v":0.87},{"b":0.7,"a":0.3,"v":0.81},{"b":0.7,"a":0.4,"v":0.74},{"b":0.7,"a":0.5,"v":0.69},{"b":0.7,"a":0.6,"v":0.64},{"b":0.7,"a":0.7,"v":0.59},{"b":0.7,"a":0.8,"v":0.54},{"b":0.7,"a":0.9,"v":0.49},{"b":0.7,"a":1.0,"v":0.45},{"b":0.7,"a":1.1,"v":0.42},{"b":0.7,"a":1.2,"v":0.37},{"b":0.7,"a":1.3,"v":0.34},{"b":0.7,"a":1.4,"v":0.31},{"b":0.7,"a":1.5,"v":0.28},{"b":0.7,"a":1.6,"v":0.26},{"b":0.7,"a":1.7,"v":0.24},{"b":0.7,"a":1.8,"v":0.22},{"b":0.7,"a":1.9,"v":0.2},
{"b":0.75,"a":0,"v":0.98},{"b":0.75,"a":0.1,"v":0.93},{"b":0.75,"a":0.2,"v":0.88},{"b":0.75,"a":0.3,"v":0.82},{"b":0.75,"a":0.4,"v":0.76},{"b":0.75,"a":0.5,"v":0.71},{"b":0.75,"a":0.6,"v":0.66},{"b":0.75,"a":0.7,"v":0.62},{"b":0.75,"a":0.8,"v":0.57},{"b":0.75,"a":0.9,"v":0.52},{"b":0.75,"a":1.0,"v":0.48},{"b":0.75,"a":1.1,"v":0.45},{"b":0.75,"a":1.2,"v":0.41},{"b":0.75,"a":1.3,"v":0.36},{"b":0.75,"a":1.4,"v":0.33},{"b":0.75,"a":1.5,"v":0.3},{"b":0.75,"a":1.6,"v":0.28},{"b":0.75,"a":1.7,"v":0.26},{"b":0.75,"a":1.8,"v":0.24},{"b":0.75,"a":1.9,"v":0.21},
{"b":0.8,"a":0,"v":0.98},{"b":0.8,"a":0.1,"v":0.93},{"b":0.8,"a":0.2,"v":0.89},{"b":0.8,"a":0.3,"v":0.84},{"b":0.8,"a":0.4,"v":0.78},{"b":0.8,"a":0.5,"v":0.73},{"b":0.8,"a":0.6,"v":0.68},{"b":0.8,"a":0.7,"v":0.63},{"b":0.8,"a":0.8,"v":0.59},{"b":0.8,"a":0.9,"v":0.54},{"b":0.8,"a":1.0,"v":0.5},{"b":0.8,"a":1.1,"v":0.47},{"b":0.8,"a":1.2,"v":0.43},{"b":0.8,"a":1.3,"v":0.39},{"b":0.8,"a":1.4,"v":0.35},{"b":0.8,"a":1.5,"v":0.32},{"b":0.8,"a":1.6,"v":0.3},{"b":0.8,"a":1.7,"v":0.27},{"b":0.8,"a":1.8,"v":0.25},{"b":0.8,"a":1.9,"v":0.23},
{"b":0.85,"a":0,"v":0.98},{"b":0.85,"a":0.1,"v":0.94},{"b":0.85,"a":0.2,"v":0.9},{"b":0.85,"a":0.3,"v":0.84},{"b":0.85,"a":0.4,"v":0.8},{"b":0.85,"a":0.5,"v":0.74},{"b":0.85,"a":0.6,"v":0.69},{"b":0.85,"a":0.7,"v":0.65},{"b":0.85,"a":0.8,"v":0.61},{"b":0.85,"a":0.9,"v":0.56},{"b":0.85,"a":1.0,"v":0.52},{"b":0.85,"a":1.1,"v":0.48},{"b":0.85,"a":1.2,"v":0.45},{"b":0.85,"a":1.3,"v":0.41},{"b":0.85,"a":1.4,"v":0.37},{"b":0.85,"a":1.5,"v":0.34},{"b":0.85,"a":1.6,"v":0.31},{"b":0.85,"a":1.7,"v":0.29},{"b":0.85,"a":1.8,"v":0.27},{"b":0.85,"a":1.9,"v":0.25},
{"b":0.9,"a":0,"v":0.98},{"b":0.9,"a":0.1,"v":0.94},{"b":0.9,"a":0.2,"v":0.9},{"b":0.9,"a":0.3,"v":0.86},{"b":0.9,"a":0.4,"v":0.81},{"b":0.9,"a":0.5,"v":0.76},{"b":0.9,"a":0.6,"v":0.71},{"b":0.9,"a":0.7,"v":0.66},{"b":0.9,"a":0.8,"v":0.62},{"b":0.9,"a":0.9,"v":0.58},{"b":0.9,"a":1.0,"v":0.54},{"b":0.9,"a":1.1,"v":0.5},{"b":0.9,"a":1.2,"v":0.47},{"b":0.9,"a":1.3,"v":0.43},{"b":0.9,"a":1.4,"v":0.39},{"b":0.9,"a":1.5,"v":0.36},{"b":0.9,"a":1.6,"v":0.33},{"b":0.9,"a":1.7,"v":0.31},{"b":0.9,"a":1.8,"v":0.28},{"b":0.9,"a":1.9,"v":0.26},
{"b":0.95,"a":0,"v":0.98},{"b":0.95,"a":0.1,"v":0.94},{"b":0.95,"a":0.2,"v":0.91},{"b":0.95,"a":0.3,"v":0.87},{"b":0.95,"a":0.4,"v":0.82},{"b":0.95,"a":0.5,"v":0.77},{"b":0.95,"a":0.6,"v":0.72},{"b":0.95,"a":0.7,"v":0.68},{"b":0.95,"a":0.8,"v":0.64},{"b":0.95,"a":0.9,"v":0.6},{"b":0.95,"a":1.0,"v":0.56},{"b":0.95,"a":1.1,"v":0.52},{"b":0.95,"a":1.2,"v":0.48},{"b":0.95,"a":1.3,"v":0.45},{"b":0.95,"a":1.4,"v":0.41},{"b":0.95,"a":1.5,"v":0.38},{"b":0.95,"a":1.6,"v":0.35},{"b":0.95,"a":1.7,"v":0.32},{"b":0.95,"a":1.8,"v":0.29},{"b":0.95,"a":1.9,"v":0.28}
],
"segments": [
{"b":0.5,"a":0,"b2":0.5,"a2":1.985},
{"b":0.75,"a":0,"b2":0.75,"a2":1.985},
{"b":0,"a":0.5,"b2":0.75,"a2":0.5},
{"b":0,"a":1.25,"b2":0.75,"a2":1.25},
{"b":0,"a":0,"b2":0.5,"a2":0.5}
],
"curve": [
{"b":0.75,"a":1.25},{"b":0.8,"a":1.2806},{"b":0.9,"a":1.3454},{"b":1.0,"a":1.4142},{"b":1.1,"a":1.4866},{"b":1.2,"a":1.562},{"b":1.3,"a":1.6401},{"b":1.4,"a":1.7205},{"b":1.5,"a":1.8028},{"b":1.6,"a":1.8868},{"b":1.65,"a":1.9295},{"b":1.7147,"a":1.985}
],
"regions": [
{"b":0.397,"a":0.144,"t":"(I)"},
{"b":0.098,"a":0.383,"t":"(II)"},
{"b":0.237,"a":0.89,"t":"(III)"},
{"b":0.249,"a":1.579,"t":"(IV)"},
{"b":0.613,"a":0.277,"t":"(V)"},
{"b":0.613,"a":0.89,"t":"(VI)"},
{"b":0.625,"a":1.579,"t":"(VII)"},
{"b":1.446,"a":0.851,"t":"(VIII)"},
{"b":0.987,"a":1.712,"t":"(IX)"}
]
},
"layer": [
{
"data": {"name": "grid"},
"mark": {"type": "rect", "clip": true},
"encoding": {
"x": {"field": "b", "type": "quantitative", "bin": {"binned": true, "step": 0.1},
"scale": {"domain": [0, 1.985], "nice": false, "zero": false},
"axis": {"values": [0.5, 0.75], "labelExpr": "datum.value == 0.5 ? ['τ','—','2'] : ['3τ','—','4']", "ticks": false, "grid": false, "title": null, "domainColor": "black", "domainWidth": 1.5, "labelFont": "Liberation Serif", "labelFontSize": 17, "labelColor": "black", "labelLineHeight": 13.5, "labelPadding": 1, "labelFlush": false, "labelOverlap": false, "labelAngle": 0, "labelAlign": "center", "labelBaseline": "top", "labelBound": false}},
"y": {"field": "a", "type": "quantitative", "bin": {"binned": true, "step": 0.1},
"scale": {"domain": [0, 1.985], "nice": false, "zero": false},
"axis": {"values": [0.5, 1.25], "labelExpr": "datum.value == 0.5 ? ['τ','—','2'] : ['5τ','—','4']", "ticks": false, "grid": false, "title": null, "domainColor": "black", "domainWidth": 1.5, "labelFont": "Liberation Serif", "labelFontSize": 17, "labelColor": "black", "labelLineHeight": 13.5, "labelPadding": 16, "labelOffset": -13.5, "labelFlush": false, "labelOverlap": false, "labelAngle": 0, "labelAlign": "center", "labelBaseline": "middle", "labelBound": false}},
"color": {"field": "v", "type": "quantitative",
"scale": {"domain": [0, 0.11, 0.34, 0.375, 0.64, 0.66, 0.89, 0.91, 1], "range": ["#8080bf", "#8080ff", "#80edff", "#8afff1", "#f7ff84", "#fff680", "#ff8980", "#f38080", "#bf8080"], "interpolate": "rgb"},
"legend": {"type": "gradient", "title": null, "orient": "none", "legendX": 569, "legendY": -1, "direction": "vertical", "gradientLength": 346, "gradientThickness": 18, "gradientStrokeColor": "black", "gradientStrokeWidth": 1.5, "values": [0, 0.2, 0.4, 0.6, 0.8, 1], "format": ".1f", "labelFont": "Liberation Serif", "labelFontSize": 16, "labelColor": "black", "labelOffset": 6, "labelOverlap": false, "labelBaseline": "middle",
"encode": {"labels": {"update": {"baseline": {"value": "middle"}}}}}}
}
},
{
"data": {"name": "grid"},
"mark": {"type": "rect", "clip": true},
"encoding": {
"x": {"field": "b", "type": "quantitative", "bin": {"binned": true, "step": 0.1}},
"y": {"field": "a", "type": "quantitative", "bin": {"binned": true, "step": 0.1}},
"color": {"field": "v", "type": "quantitative"}
}
},
{
"data": {"name": "fine"},
"mark": {"type": "rect", "clip": true},
"encoding": {
"x": {"field": "b", "type": "quantitative", "bin": {"binned": true, "step": 0.05}},
"y": {"field": "a", "type": "quantitative", "bin": {"binned": true, "step": 0.05}},
"color": {"field": "v", "type": "quantitative"}
}
},
{
"data": {"name": "fine"},
"mark": {"type": "rect", "clip": true},
"encoding": {
"x": {"field": "b", "type": "quantitative", "bin": {"binned": true, "step": 0.05}},
"y": {"field": "a", "type": "quantitative", "bin": {"binned": true, "step": 0.05}},
"color": {"field": "v", "type": "quantitative"}
}
},
{
"data": {"name": "fine2"},
"mark": {"type": "rect", "clip": true},
"encoding": {
"x": {"field": "b", "type": "quantitative", "bin": {"binned": true, "step": 0.05}},
"y": {"field": "a", "type": "quantitative", "bin": {"binned": true, "step": 0.1}},
"color": {"field": "v", "type": "quantitative"}
}
},
{
"data": {"name": "fine2"},
"mark": {"type": "rect", "clip": true},
"encoding": {
"x": {"field": "b", "type": "quantitative", "bin": {"binned": true, "step": 0.05}},
"y": {"field": "a", "type": "quantitative", "bin": {"binned": true, "step": 0.1}},
"color": {"field": "v", "type": "quantitative"}
}
},
{
"data": {"name": "segments"},
"mark": {"type": "rule", "color": "black", "strokeWidth": 2},
"encoding": {
"x": {"field": "b", "type": "quantitative"},
"x2": {"field": "b2"},
"y": {"field": "a", "type": "quantitative"},
"y2": {"field": "a2"}
}
},
{
"data": {"name": "curve"},
"mark": {"type": "line", "color": "black", "strokeWidth": 2, "clip": true},
"encoding": {
"x": {"field": "b", "type": "quantitative"},
"y": {"field": "a", "type": "quantitative"}
}
},
{
"data": {"values": [{"b": 0, "a": 0, "b2": 0, "a2": 2.08}, {"b": 0, "a": 0, "b2": 2.05, "a2": 0}]},
"mark": {"type": "rule", "color": "black", "strokeWidth": 1.5},
"encoding": {
"x": {"field": "b", "type": "quantitative"},
"x2": {"field": "b2"},
"y": {"field": "a", "type": "quantitative"},
"y2": {"field": "a2"}
}
},
{
"data": {"values": [{"b": 0, "a": 2.075, "s": "triangle-up"}, {"b": 2.048, "a": 0, "s": "triangle-right"}]},
"mark": {"type": "point", "filled": true, "color": "black", "opacity": 1, "size": 55},
"encoding": {
"x": {"field": "b", "type": "quantitative"},
"y": {"field": "a", "type": "quantitative"},
"shape": {"field": "s", "type": "nominal", "scale": {"domain": ["triangle-up", "triangle-right"], "range": ["triangle-up", "triangle-right"]}, "legend": null}
}
},
{
"data": {"name": "regions"},
"mark": {"type": "text", "font": "Liberation Serif", "fontSize": 21, "color": "black", "align": "center", "baseline": "middle"},
"encoding": {
"x": {"field": "b", "type": "quantitative"},
"y": {"field": "a", "type": "quantitative"},
"text": {"field": "t"}
}
},
{
"data": {"values": [{"b": 0.132, "a": 0.214, "t": "X"}, {"b": 0.218, "a": 0.277, "t": "="}, {"b": 0.289, "a": 0.34, "t": "X"}]},
"mark": {"type": "text", "font": "Liberation Serif", "fontSize": 18, "color": "black", "align": "center", "baseline": "middle", "angle": -30},
"encoding": {
"x": {"field": "b", "type": "quantitative"},
"y": {"field": "a", "type": "quantitative"},
"text": {"field": "t"}
}
},
{
"data": {"values": [{"b": 0.169, "a": 0.207, "t": "A"}, {"b": 0.335, "a": 0.363, "t": "B"}]},
"mark": {"type": "text", "font": "Liberation Serif", "fontSize": 13, "color": "black", "align": "center", "baseline": "middle", "angle": -30},
"encoding": {
"x": {"field": "b", "type": "quantitative"},
"y": {"field": "a", "type": "quantitative"},
"text": {"field": "t"}
}
},
{
"data": {"values": [{"b": 1.106, "a": 1.311, "t": "X"}, {"b": 1.214, "a": 1.397, "t": "="}, {"b": 1.356, "a": 1.527, "t": "X"}, {"b": 1.47, "a": 1.603, "t": "+"}, {"b": 1.507, "a": 1.642, "t": "τ"}]},
"mark": {"type": "text", "font": "Liberation Serif", "fontSize": 18, "color": "black", "align": "center", "baseline": "middle", "angle": -25},
"encoding": {
"x": {"field": "b", "type": "quantitative"},
"y": {"field": "a", "type": "quantitative"},
"text": {"field": "t"}
}
},
{
"data": {"values": [{"b": 1.171, "a": 1.311, "t": "A"}, {"b": 1.393, "a": 1.632, "t": "2"}, {"b": 1.417, "a": 1.512, "t": "B"}, {"b": 1.553, "a": 1.709, "t": "2"}]},
"mark": {"type": "text", "font": "Liberation Serif", "fontSize": 13, "color": "black", "align": "center", "baseline": "middle", "angle": -25},
"encoding": {
"x": {"field": "b", "type": "quantitative"},
"y": {"field": "a", "type": "quantitative"},
"text": {"field": "t"}
}
},
{
"data": {"values": [{"b": 1.285, "a": 1.49, "t": "√"}]},
"mark": {"type": "text", "font": "DejaVu Serif", "fontSize": 38, "color": "black", "align": "center", "baseline": "middle", "angle": -25},
"encoding": {
"x": {"field": "b", "type": "quantitative"},
"y": {"field": "a", "type": "quantitative"},
"text": {"field": "t"}
}
},
{
"data": {"values": [{"b": 1.31, "a": 1.617, "b2": 1.538, "a2": 1.795}]},
"mark": {"type": "rule", "color": "black", "strokeWidth": 0.9},
"encoding": {
"x": {"field": "b", "type": "quantitative"},
"x2": {"field": "b2"},
"y": {"field": "a", "type": "quantitative"},
"y2": {"field": "a2"}
}
},
{
"data": {"values": [{"b": -0.121, "a": 1.995, "t": "X"}, {"b": 1.99, "a": -0.086, "t": "X"}]},
"mark": {"type": "text", "font": "Liberation Serif", "fontStyle": "italic", "fontSize": 20, "color": "black", "align": "center", "baseline": "middle"},
"encoding": {
"x": {"field": "b", "type": "quantitative"},
"y": {"field": "a", "type": "quantitative"},
"text": {"field": "t"}
}
},
{
"data": {"values": [{"b": -0.069, "a": 1.95, "t": "A"}, {"b": 2.041, "a": -0.126, "t": "B"}]},
"mark": {"type": "text", "font": "Liberation Serif", "fontStyle": "italic", "fontSize": 14, "color": "black", "align": "center", "baseline": "middle"},
"encoding": {
"x": {"field": "b", "type": "quantitative"},
"y": {"field": "a", "type": "quantitative"},
"text": {"field": "t"}
}
}
]
}
